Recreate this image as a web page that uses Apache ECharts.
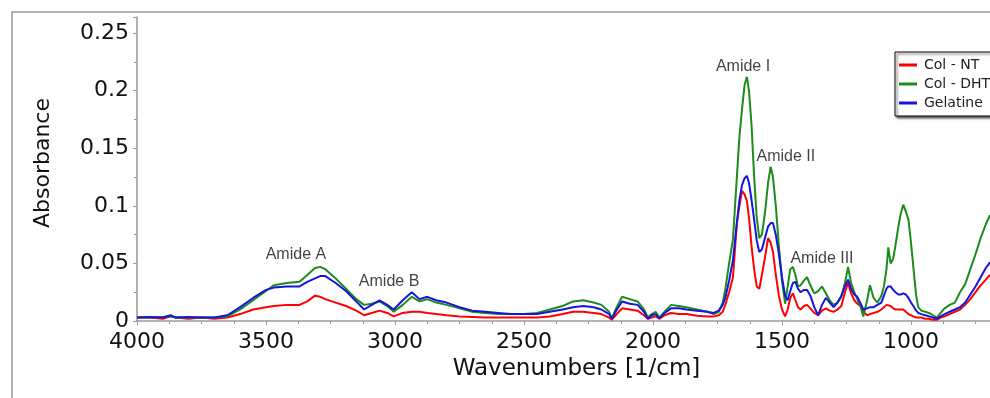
<!DOCTYPE html>
<html>
<head>
<meta charset="utf-8">
<script src="https://cdn.jsdelivr.net/npm/echarts@6/dist/echarts.min.js"></script>
<style>
  html,body{margin:0;padding:0;background:#fff;}
  #chart{width:990px;height:398px;}
</style>
</head>
<body>
<div id="chart"></div>
<script>
// FTIR spectra, values (absorbance vs wavenumber 1/cm)
const waveNumbers = [
  4000,3950,3900,3870,3850,3800,3750,3700,3650,3600,
  3550,3500,3470,3420,3370,3340,3310,3290,3270,3230,
  3190,3150,3120,3090,3060,3030,3005,2970,2935,2905,
  2875,2840,2800,2750,2700,2650,2600,2550,2500,2450,
  2400,2350,2310,2270,2230,2200,2170,2160,2145,2120,
  2090,2060,2035,2020,2005,1990,1975,1955,1930,1900,
  1870,1830,1790,1765,1745,1730,1720,1705,1690,1675,
  1665,1655,1645,1636,1628,1618,1608,1598,1588,1578,
  1566,1554,1544,1535,1524,1512,1500,1488,1478,1468,
  1458,1448,1438,1428,1415,1403,1390,1375,1360,1345,
  1330,1315,1300,1285,1270,1256,1244,1232,1220,1208,
  1195,1185,1170,1159,1145,1130,1115,1105,1095,1088,
  1079,1069,1060,1049,1040,1030,1020,1010,1000,991,
  980,972,960,945,930,915,900,885,870,850,
  830,810,790,770,750,730,710,694
]
const colNT = [
  0.003,0.003,0.002,0.004,0.003,0.002,0.003,0.002,0.003,0.006,
  0.010,0.012,0.013,0.014,0.014,0.017,0.022,0.021,0.019,0.016,
  0.013,0.009,0.005,0.007,0.009,0.007,0.004,0.007,0.008,0.008,
  0.007,0.006,0.005,0.004,0.0035,0.003,0.003,0.003,0.003,0.003,
  0.004,0.006,0.008,0.008,0.007,0.006,0.003,0.001,0.005,0.011,
  0.010,0.009,0.005,0.002,0.003,0.004,0.002,0.005,0.007,0.006,
  0.006,0.0045,0.004,0.004,0.005,0.008,0.014,0.025,0.038,0.085,
  0.100,0.113,0.110,0.104,0.090,0.065,0.045,0.030,0.028,0.040,
  0.055,0.072,0.068,0.060,0.040,0.022,0.010,0.004,0.010,0.020,
  0.024,0.018,0.012,0.010,0.013,0.014,0.011,0.007,0.005,0.009,
  0.011,0.009,0.008,0.010,0.013,0.025,0.033,0.024,0.018,0.015,
  0.013,0.008,0.005,0.006,0.007,0.008,0.010,0.012,0.014,0.014,
  0.013,0.011,0.010,0.010,0.010,0.010,0.008,0.006,0.005,0.004,
  0.003,0.003,0.003,0.002,0.002,0.001,0.001,0.003,0.004,0.006,
  0.008,0.010,0.014,0.019,0.025,0.031,0.036,0.040
]
const colDHT = [
  0.003,0.003,0.0035,0.004,0.003,0.003,0.003,0.003,0.004,0.010,
  0.018,0.026,0.031,0.033,0.034,0.040,0.046,0.047,0.045,0.037,
  0.028,0.019,0.014,0.015,0.017,0.013,0.008,0.014,0.021,0.017,
  0.019,0.016,0.014,0.011,0.008,0.007,0.006,0.006,0.006,0.007,
  0.010,0.013,0.017,0.018,0.016,0.014,0.008,0.002,0.010,0.021,
  0.019,0.017,0.010,0.003,0.006,0.008,0.003,0.008,0.014,0.013,
  0.012,0.010,0.008,0.006,0.008,0.016,0.027,0.050,0.071,0.125,
  0.160,0.184,0.205,0.212,0.200,0.170,0.125,0.090,0.072,0.075,
  0.094,0.120,0.134,0.125,0.100,0.065,0.035,0.015,0.030,0.045,
  0.047,0.040,0.030,0.031,0.035,0.038,0.031,0.024,0.026,0.030,
  0.024,0.018,0.014,0.016,0.021,0.033,0.047,0.033,0.025,0.019,
  0.012,0.004,0.018,0.031,0.020,0.016,0.022,0.030,0.045,0.064,
  0.050,0.054,0.066,0.082,0.093,0.101,0.095,0.088,0.068,0.047,
  0.022,0.012,0.009,0.008,0.007,0.005,0.003,0.007,0.011,0.014,
  0.016,0.025,0.032,0.045,0.058,0.072,0.084,0.092
]
const gelatine = [
  0.003,0.0035,0.003,0.005,0.003,0.0035,0.003,0.003,0.005,0.012,
  0.020,0.027,0.029,0.030,0.030,0.034,0.037,0.039,0.039,0.033,
  0.026,0.017,0.010,0.014,0.018,0.014,0.010,0.018,0.025,0.019,
  0.021,0.018,0.016,0.012,0.009,0.008,0.007,0.006,0.006,0.006,
  0.008,0.010,0.012,0.013,0.012,0.010,0.006,0.002,0.008,0.017,
  0.015,0.014,0.008,0.002,0.005,0.006,0.002,0.007,0.011,0.011,
  0.010,0.009,0.008,0.007,0.009,0.014,0.020,0.035,0.053,0.085,
  0.105,0.118,0.124,0.126,0.120,0.105,0.088,0.070,0.060,0.062,
  0.072,0.082,0.085,0.085,0.075,0.058,0.038,0.022,0.018,0.026,
  0.033,0.034,0.028,0.025,0.027,0.027,0.022,0.012,0.005,0.014,
  0.020,0.016,0.012,0.016,0.022,0.030,0.036,0.028,0.023,0.021,
  0.015,0.010,0.011,0.012,0.012,0.014,0.016,0.022,0.028,0.030,
  0.030,0.027,0.025,0.023,0.023,0.024,0.023,0.020,0.016,0.013,
  0.009,0.007,0.006,0.005,0.004,0.003,0.002,0.004,0.006,0.008,
  0.010,0.012,0.016,0.023,0.030,0.038,0.046,0.051
]
// band labels, placed in data units
const bandNames = ['Amide A','Amide B','Amide I','Amide II','Amide III']
const bandWave = [3384, 3023, 1651, 1485, 1345]
const bandAbs = [0.0575, 0.034, 0.2205, 0.143, 0.054]

let myChart = echarts.init(document.getElementById('chart'), null, {renderer:'canvas'})

function pairs(vals){
  return waveNumbers.map((w, i) => [w, vals[i]])
}
function lineSeries(name, color, vals){
  return {
    name: name,
    type: 'line',
    showSymbol: false,
    symbol: 'none',
    data: pairs(vals),
    lineStyle: {color: color, width: 2},
    itemStyle: {color: color},
    animation: false
  }
}

let option = {
  animation: false,
  backgroundColor: '#fff',
  graphic: [{
    type: 'rect',
    z: -10,
    shape: {x: 12, y: 12, width: 1100, height: 500},
    style: {fill: 'none', stroke: '#9a9a9a', lineWidth: 1.5}
  }],
  grid: {
    left: 137,
    right: -50,
    top: 17,
    bottom: 77,
    outerBoundsMode: 'none'
  },
  legend: {
    data: ['Col - NT', 'Col - DHT', 'Gelatine'],
    orient: 'vertical',
    left: 895,
    top: 52,
    icon: 'rect',
    itemWidth: 18,
    itemHeight: 3,
    itemGap: 3,
    padding: [5, 20, 5, 4],
    borderColor: '#000',
    borderWidth: 1,
    backgroundColor: '#fff',
    shadowColor: 'rgba(0,0,0,0.6)',
    shadowOffsetX: 2,
    shadowOffsetY: 2,
    shadowBlur: 2,
    textStyle: {fontFamily: 'DejaVu Sans', fontSize: 14, color: '#222', lineHeight: 16, padding: [0, 0, 0, 2]}
  },
  xAxis: {
    type: 'value',
    inverse: true,
    min: 500,
    max: 4000,
    interval: 500,
    name: 'Wavenumbers [1/cm]',
    nameLocation: 'middle',
    nameGap: 37,
    nameTextStyle: {fontFamily: 'DejaVu Sans', fontSize: 23, color: '#111', padding: [0, 24, 0, 0]},
    axisLine: {show: true, onZero: false, lineStyle: {color: '#999', width: 1.5}},
    axisTick: {show: true, length: 4, lineStyle: {color: '#999'}},
    minorTick: {show: true, splitNumber: 4, length: 3, lineStyle: {color: '#999'}},
    splitLine: {show: false},
    axisLabel: {
      fontFamily: 'DejaVu Sans', fontSize: 22, color: '#111', margin: 10,
      formatter: function(v){ return String(v) }
    }
  },
  yAxis: {
    type: 'value',
    min: 0,
    max: 0.264,
    interval: 0.05,
    name: 'Absorbance',
    nameLocation: 'middle',
    nameGap: 83,
    nameTextStyle: {fontFamily: 'DejaVu Sans', fontSize: 22, color: '#111', padding: [0, 0, 0, 12]},
    axisLine: {show: true, lineStyle: {color: '#999', width: 1.5}},
    axisTick: {show: true, length: 4, lineStyle: {color: '#999'}},
    minorTick: {show: true, splitNumber: 2, length: 3, lineStyle: {color: '#999'}},
    splitLine: {show: false},
    axisLabel: {
      fontFamily: 'DejaVu Sans', fontSize: 22, color: '#111', margin: 8,
      formatter: function(v){
        let k = v / 0.05
        if(Math.abs(k - Math.round(k)) > 1e-6) return ''
        return String(Math.round(v * 100) / 100)
      }
    }
  },
  series: [
    lineSeries('Col - NT', '#ff0000', colNT),
    lineSeries('Col - DHT', '#1c8c1c', colDHT),
    lineSeries('Gelatine', '#1515dd', gelatine),
    {
      name: 'bands',
      type: 'scatter',
      symbolSize: 0,
      silent: true,
      data: bandNames.map((n, i) => ({value: [bandWave[i], bandAbs[i]], name: n})),
      label: {
        show: true,
        position: 'inside',
        formatter: '{b}',
        fontFamily: 'Liberation Sans',
        fontSize: 16,
        color: '#111'
      },
      z: 5
    }
  ]
}
myChart.setOption(option)
</script>
</body>
</html>
